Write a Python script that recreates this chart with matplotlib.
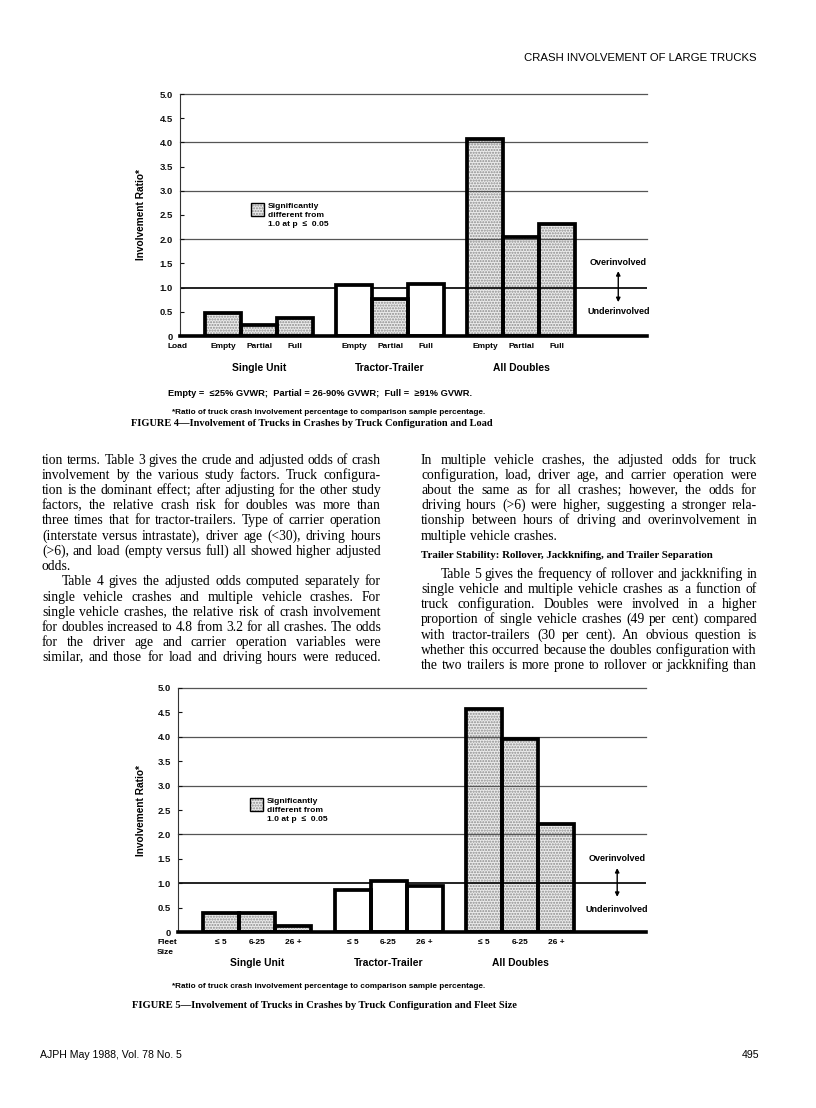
import math
import matplotlib
matplotlib.use('Agg')
import matplotlib.pyplot as plt
import matplotlib.transforms as mtransforms
from matplotlib.patches import Rectangle

W, H = 816, 1108

# ---------------- data ----------------
groups = ['Single Unit', 'Tractor-Trailer', 'All Doubles']
load_labels = ['Empty', 'Partial', 'Full']
load_values = [0.48, 0.23, 0.38, 1.06, 0.77, 1.07, 4.07, 2.04, 2.31]
load_signif = [True, True, True, False, True, False, True, True, True]
fleet_labels = ['\u2264 5', '6-25', '26 +']
fleet_values = [0.39, 0.39, 0.13, 0.87, 1.05, 0.94, 4.56, 3.95, 2.21]
fleet_signif = [True, True, True, False, False, False, True, True, True]
y_ticks = [0, 0.5, 1.0, 1.5, 2.0, 2.5, 3.0, 3.5, 4.0, 4.5, 5.0]
y_tick_labels = ['0', '0.5', '1.0', '1.5', '2.0', '2.5', '3.0', '3.5', '4.0', '4.5', '5.0']
grid_levels = [2, 3, 4, 5]

header = 'CRASH INVOLVEMENT OF LARGE TRUCKS'
footer_left = 'AJPH May 1988, Vol. 78 No. 5'
footer_right = '495'
fig4_note = 'Empty =  \u226425% GVWR;  Partial = 26-90% GVWR;  Full =  \u226591% GVWR.'
ratio_note = '*Ratio of truck crash involvement percentage to comparison sample percentage.'
fig4_caption = 'FIGURE 4\u2014Involvement of Trucks in Crashes by Truck Configuration and Load'
fig5_caption = 'FIGURE 5\u2014Involvement of Trucks in Crashes by Truck Configuration and Fleet Size'
legend_text = 'Significantly\ndifferent from\n1.0 at p  \u2264  0.05'

left_col = [
    ('tion terms. Table 3 gives the crude and adjusted odds of crash', True, 0),
    ('involvement by the various study factors. Truck configura-', True, 0),
    ('tion is the dominant effect; after adjusting for the other study', True, 0),
    ('factors, the relative crash risk for doubles was more than', True, 0),
    ('three times that for tractor-trailers. Type of carrier operation', True, 0),
    ('(interstate versus intrastate), driver age (<30), driving hours', True, 0),
    ('(>6), and load (empty versus full) all showed higher adjusted', True, 0),
    ('odds.', False, 0),
    ('Table 4 gives the adjusted odds computed separately for', True, 1),
    ('single vehicle crashes and multiple vehicle crashes. For', True, 0),
    ('single vehicle crashes, the relative risk of crash involvement', True, 0),
    ('for doubles increased to 4.8 from 3.2 for all crashes. The odds', True, 0),
    ('for the driver age and carrier operation variables were', True, 0),
    ('similar, and those for load and driving hours were reduced.', True, 0),
]
right_col_a = [
    ('In multiple vehicle crashes, the adjusted odds for truck', True, 0),
    ('configuration, load, driver age, and carrier operation were', True, 0),
    ('about the same as for all crashes; however, the odds for', True, 0),
    ('driving hours (>6) were higher, suggesting a stronger rela-', True, 0),
    ('tionship between hours of driving and overinvolvement in', True, 0),
    ('multiple vehicle crashes.', False, 0),
]
right_heading = 'Trailer Stability: Rollover, Jackknifing, and Trailer Separation'
right_col_b = [
    ('Table 5 gives the frequency of rollover and jackknifing in', True, 1),
    ('single vehicle and multiple vehicle crashes as a function of', True, 0),
    ('truck configuration. Doubles were involved in a higher', True, 0),
    ('proportion of single vehicle crashes (49 per cent) compared', True, 0),
    ('with tractor-trailers (30 per cent). An obvious question is', True, 0),
    ('whether this occurred because the doubles configuration with', True, 0),
    ('the two trailers is more prone to rollover or jackknifing than', True, 0),
]

SANS = ['Liberation Sans', 'DejaVu Sans']
SERIF = ['Liberation Serif', 'DejaVu Serif']

fig = plt.figure(figsize=(W / 100, H / 100), dpi=100)
fig.patch.set_facecolor('white')


def F(x, y):
    return (x / W, 1 - y / H)


def ftext(x, y, s, **kw):
    kw.setdefault('family', SANS)
    kw.setdefault('va', 'center')
    return fig.text(x / W, 1 - y / H, s, **kw)


STIPPLE_FACE = '#ebebeb'
STIPPLE_HATCH = '#8c8c8c'


def draw_chart(left, right, top, bottom, values, signif, cats, xname, xname_y,
               tick_y, group_y, over_y, under_y, arrow_y, legend_box, legend_top):
    ax = fig.add_axes([left / W, 1 - bottom / H, (right - left) / W, (bottom - top) / H])
    ax.set_xlim(0, 13)
    ax.set_ylim(0, 5)
    ax.set_facecolor('none')
    xs = [1.2 + g * 3.65 + i for g in range(len(groups)) for i in range(len(cats))]

    for lv in grid_levels:
        ax.axhline(lv, color='#555555', lw=0.9, zorder=1, clip_on=False)
    ax.axhline(1.0, color='#111111', lw=1.3, zorder=1)

    sx = [x for x, s in zip(xs, signif) if s]
    sv = [v for v, s in zip(values, signif) if s]
    wx = [x for x, s in zip(xs, signif) if not s]
    wv = [v for v, s in zip(values, signif) if not s]
    ax.bar(sx, sv, width=1.0, facecolor=STIPPLE_FACE, edgecolor=STIPPLE_HATCH,
           hatch='......', linewidth=0, zorder=0.5)
    ax.bar(wx, wv, width=1.0, facecolor='white', edgecolor='none', zorder=1.5)
    ax.bar(xs, values, width=1.0, fill=False, edgecolor='black', linewidth=2.7,
           joinstyle='miter', zorder=3)
    ax.axhline(0, color='black', lw=2.6, zorder=4, clip_on=False)

    for sp in ['top', 'right', 'bottom']:
        ax.spines[sp].set_visible(False)
    ax.spines['left'].set_color('#333333')
    ax.spines['left'].set_linewidth(0.8)
    ax.set_yticks(y_ticks)
    ax.set_yticklabels(y_tick_labels)
    ax.tick_params(axis='y', direction='in', length=3, width=0.8, pad=5,
                   labelsize=6.8, colors='#111111')
    for t in ax.get_yticklabels():
        t.set_fontweight('bold')
        t.set_family(SANS)
    ax.set_xticks([])
    ax.set_ylabel('Involvement Ratio*', fontsize=7.3, fontweight='bold', family=SANS)
    ax.yaxis.set_label_coords((146 - left) / (right - left), 0.5)

    blend = mtransforms.blended_transform_factory(ax.transData, fig.transFigure)
    for x, lab in zip(xs, cats * len(groups)):
        ax.text(x, 1 - tick_y / H, lab, transform=blend, ha='center', va='center',
                fontsize=6.0, fontweight='bold', family=SANS)
    for g, name in enumerate(groups):
        cx = sum(xs[g * 3:(g + 1) * 3]) / 3
        ax.text(cx, 1 - group_y / H, name, transform=blend, ha='center', va='center',
                fontsize=7.4, fontweight='bold', family=SANS)
    for i, line in enumerate(xname):
        ftext(xname_y[0], xname_y[1] + i * 10, line, fontsize=6.0, fontweight='bold')

    ax.text(12.2, over_y, 'Overinvolved', ha='center', va='center', fontsize=6.5,
            fontweight='bold', family=SANS)
    ax.text(12.2, under_y, 'Underinvolved', ha='center', va='center', fontsize=6.5,
            fontweight='bold', family=SANS)
    ax.annotate('', xy=(12.2, arrow_y[0]), xytext=(12.2, arrow_y[1]),
                arrowprops=dict(arrowstyle='<|-|>', color='black', lw=1.0,
                                mutation_scale=6, shrinkA=0, shrinkB=0))

    # legend
    bx, by, bw, bh = legend_box
    fig.patches.append(Rectangle(F(bx, by + bh), bw / W, bh / H, transform=fig.transFigure,
                                 facecolor=STIPPLE_FACE, edgecolor=STIPPLE_HATCH,
                                 hatch='......', linewidth=0))
    fig.patches.append(Rectangle(F(bx, by + bh), bw / W, bh / H, transform=fig.transFigure,
                                 fill=False, edgecolor='black', linewidth=1.0))
    ftext(bx + 17, legend_top, legend_text, fontsize=6.1, fontweight='bold',
          va='top', linespacing=1.4)
    return ax


# Figure 4 chart
draw_chart(180, 647, 94, 336, load_values, load_signif, load_labels, ['Load'], (167, 347),
           347, 368, 1.51, 0.50, (0.70, 1.34), (251, 203, 13, 13), 203)
ftext(168, 394, fig4_note, fontsize=6.7, fontweight='bold')
ftext(172, 412, ratio_note, fontsize=5.9, fontweight='bold')
ftext(131, 424, fig4_caption, family=SERIF, fontsize=7.5, fontweight='bold')

# Figure 5 chart
draw_chart(178, 646, 688, 932, fleet_values, fleet_signif, fleet_labels, ['Fleet', 'Size'],
           (157, 943), 943, 963, 1.50, 0.47, (0.72, 1.31), (250, 798, 13, 13), 798)
ftext(172, 987, ratio_note, fontsize=5.9, fontweight='bold')
ftext(132, 1005, fig5_caption, family=SERIF, fontsize=7.6, fontweight='bold')

# header / footer
ftext(757, 58, header, fontsize=8.2, ha='right')
ftext(40, 1055, footer_left, fontsize=7.6)
ftext(759, 1055, footer_right, fontsize=7.6, ha='right')

# justified body text
renderer = fig.canvas.get_renderer()
BODY_SIZE = 9.8


def baseline_shift(t, word):
    """Pixel correction so every word of a line lands on the same raster baseline."""
    try:
        _, h, d = renderer.get_text_width_height_descent(word, t.get_fontproperties(), ismath=False)
    except Exception:
        return 0
    frac_d = d - math.floor(d)
    ymax = h - d
    frac_a = ymax - math.floor(ymax)
    return (1 if frac_d >= 0.5 else 0) - (1 if frac_a + frac_d >= 1 - 1e-9 else 0)


def set_lines(lines, x0, x1, y0, dy, size=BODY_SIZE):
    for k, (txt, just, indent) in enumerate(lines):
        y = round(y0 + k * dy + 3.5)  # integer baseline (top-down pixels)
        xs0 = x0 + (20 if indent else 0)
        words = txt.split(' ')
        s = size
        while True:
            objs, widths = [], []
            for w in words:
                t = fig.text(0, 0, w, fontsize=s, family=SERIF, va='baseline', ha='left')
                widths.append(t.get_window_extent(renderer=renderer).width)
                objs.append(t)
            if just and len(words) > 1:
                gap = (x1 - xs0 - sum(widths)) / (len(words) - 1)
            else:
                gap = s * 0.25 * 100 / 72
            if gap >= 2.0 or not just:
                break
            for t in objs:
                t.remove()
            s -= 0.1
        x = xs0
        for t, w, word in zip(objs, widths, words):
            yy = y - baseline_shift(t, word)
            t.set_position((x / W, (H - yy) / H))
            x += w + gap


set_lines(left_col, 42, 381, 460, 15.23)
set_lines(right_col_a, 421, 757, 460, 15.23)
ftext(421, 555, right_heading, family=SERIF, fontsize=7.8, fontweight='bold')
set_lines(right_col_b, 421, 757, 574, 15.3)

fig.savefig('out.png', dpi=100, facecolor='white')
